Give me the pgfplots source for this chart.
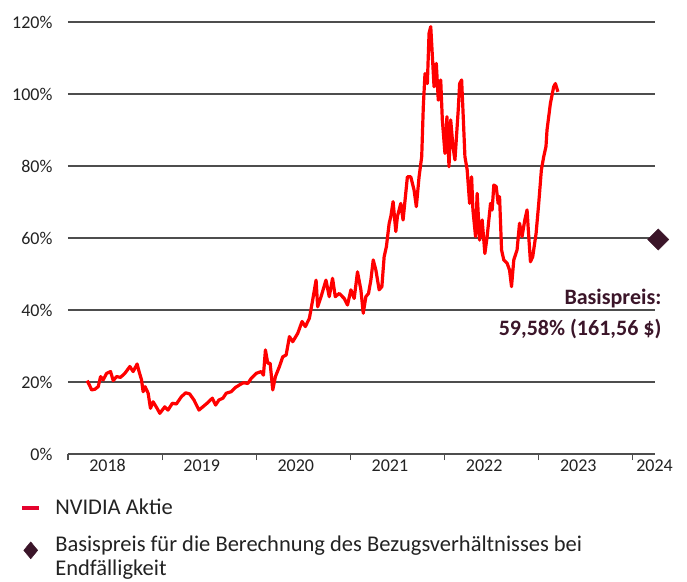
\documentclass[border=0pt]{standalone}
\usepackage{pgfplots}
\pgfplotsset{compat=1.18}
\usepackage{fontspec}
\setmainfont{Carlito}
\definecolor{nvred}{HTML}{FF0000}
\definecolor{legred}{HTML}{E4032E}
\definecolor{basis}{HTML}{3B1529}
\definecolor{gridc}{HTML}{4D4D4D}
\definecolor{labc}{HTML}{222222}

\pgfplotstableread{
x y
2018.204 20.4
2018.230 19.0
2018.251 17.8
2018.286 18.0
2018.321 18.7
2018.346 21.5
2018.374 20.6
2018.410 22.4
2018.452 22.9
2018.480 20.4
2018.516 21.5
2018.558 21.3
2018.604 22.4
2018.657 24.3
2018.692 22.9
2018.734 25.0
2018.755 22.9
2018.781 20.6
2018.798 17.3
2018.819 18.7
2018.851 16.9
2018.876 12.7
2018.904 14.5
2018.946 12.7
2018.975 11.3
2019.028 13.1
2019.062 12.2
2019.109 14.1
2019.151 13.9
2019.204 15.9
2019.250 17.0
2019.292 16.7
2019.338 15.0
2019.391 12.2
2019.441 13.3
2019.486 14.3
2019.533 15.5
2019.568 13.6
2019.603 15.0
2019.645 15.5
2019.681 16.9
2019.734 17.3
2019.780 18.5
2019.822 19.2
2019.864 19.8
2019.910 19.6
2019.946 21.0
2019.999 22.4
2020.052 22.9
2020.076 21.9
2020.097 28.9
2020.122 25.2
2020.147 25.2
2020.175 17.8
2020.203 21.5
2020.246 24.3
2020.281 27.0
2020.317 27.5
2020.352 32.6
2020.387 31.2
2020.440 33.5
2020.486 36.8
2020.521 35.4
2020.564 37.7
2020.599 42.8
2020.635 48.3
2020.652 40.9
2020.688 43.7
2020.740 48.3
2020.775 43.7
2020.810 48.8
2020.839 43.7
2020.881 44.6
2020.934 43.2
2020.969 41.4
2021.005 45.6
2021.040 43.2
2021.075 50.6
2021.111 45.6
2021.136 39.1
2021.164 43.7
2021.192 44.6
2021.217 48.3
2021.242 53.9
2021.270 51.1
2021.305 45.6
2021.334 46.5
2021.358 54.8
2021.382 57.6
2021.411 64.0
2021.429 66.0
2021.453 70.1
2021.482 61.8
2021.499 66.0
2021.535 69.6
2021.559 65.0
2021.605 77.0
2021.641 77.0
2021.676 73.3
2021.700 68.7
2021.729 77.0
2021.757 82.6
2021.774 96.5
2021.792 105.7
2021.817 102.9
2021.835 116.9
2021.853 118.7
2021.863 114.0
2021.888 102.0
2021.912 108.5
2021.933 98.3
2021.959 103.9
2021.976 92.8
2022.004 83.5
2022.025 93.7
2022.047 79.8
2022.065 92.8
2022.089 85.4
2022.110 81.7
2022.124 87.2
2022.145 95.6
2022.160 102.9
2022.181 103.9
2022.195 95.6
2022.216 82.6
2022.240 78.9
2022.266 69.6
2022.287 77.0
2022.301 67.8
2022.329 60.4
2022.346 72.4
2022.372 59.4
2022.399 65.0
2022.428 55.7
2022.452 60.4
2022.488 69.6
2022.505 67.8
2022.523 74.7
2022.548 74.3
2022.569 69.6
2022.584 71.5
2022.605 56.7
2022.629 53.9
2022.664 53.0
2022.690 51.1
2022.711 46.5
2022.735 53.9
2022.770 56.7
2022.796 64.1
2022.823 60.4
2022.852 65.0
2022.876 67.8
2022.894 60.4
2022.912 53.4
2022.936 54.8
2022.972 61.3
2023.000 69.6
2023.028 78.9
2023.053 82.6
2023.077 85.4
2023.088 90.0
2023.106 93.7
2023.124 97.4
2023.159 102.0
2023.177 102.9
2023.204 100.6
}\nvdata

\begin{document}
\begin{tikzpicture}
\useasboundingbox (-68pt,-127pt) rectangle (619pt,454pt);
\begin{axis}[
  scale only axis, width=587pt, height=432pt,
  xmin=2018, xmax=2024.235, ymin=0, ymax=120,
  clip=false,
  axis x line*=bottom, axis y line*=left,
  y axis line style={draw=none},
  x axis line style={gridc, line width=1.2pt, -},
  xtick={2018.42,2019.42,2020.42,2021.42,2022.42,2023.42,2024.23},
  xticklabels={2018,2019,2020,2021,2022,2023,2024},
  minor xtick={2018,2019,2020,2021,2022,2023,2024},
  major tick length=0pt, minor tick length=6pt,
  xtick align=outside,
  minor x tick style={gridc, line width=1.2pt},
  ytick={0,20,40,60,80,100,120},
  yticklabels={0\%,20\%,40\%,60\%,80\%,100\%,120\%},
  ytick style={draw=none},
  ymajorgrids, grid style={gridc, line width=1.2pt},
  tick label style={font=\fontsize{18}{20}\selectfont, text=labc},
  xticklabel style={yshift=-2pt},
  yticklabel style={xshift=-12pt},
  legend style={at={(axis description cs:0,0)}, anchor=north west,
    xshift=-51pt, yshift=-41pt, draw=none, fill=none,
    font=\fontsize{22.5}{23.5}\selectfont, text=labc,
    cells={anchor=west, align=left, inner ysep=1pt}, row sep=16pt,
    /tikz/every odd column/.append style={column sep=12pt}},
  legend cell align=left,
]
\addlegendimage{legred, line width=4pt, line legend}
\addlegendentry{NVIDIA Aktie}
\addlegendimage{legend image code/.code={\fill[basis] (0.3cm,0.52cm) -- (0.3cm+7pt,0.52cm-8.5pt) -- (0.3cm,0.52cm-17pt) -- (0.3cm-7pt,0.52cm-8.5pt) -- cycle;}}
\addlegendentry{Basispreis für die Berechnung des Bezugsverhältnisses bei\\Endfälligkeit}
\addplot[nvred, line width=3.2pt, line join=round, forget plot] table[x=x, y=y] {\nvdata};
\addplot[only marks, mark=square*, mark size=7.5pt, mark options={rotate=45, fill=basis, draw=basis}, forget plot] coordinates {(2024.27,59.58)};
\node[anchor=east, font=\bfseries\fontsize{22}{24}\selectfont, text=basis] at (axis cs:2024.34,43.3) {Basispreis:};
\node[anchor=east, font=\bfseries\fontsize{22}{24}\selectfont, text=basis] at (axis cs:2024.34,34.7) {59,58\% (161,56 \$)};
\end{axis}
\end{tikzpicture}
\end{document}
